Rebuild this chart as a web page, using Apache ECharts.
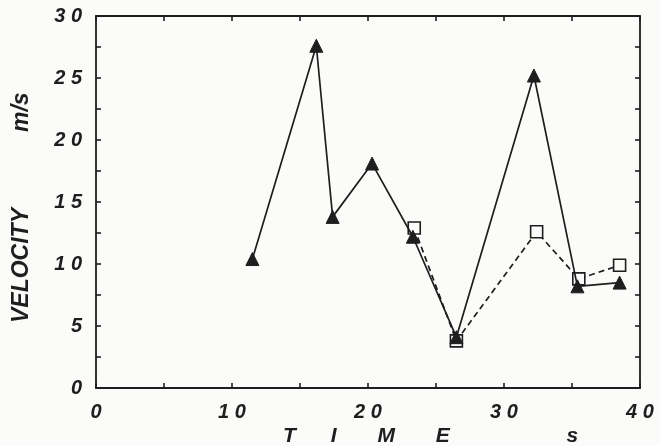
<!DOCTYPE html>
<html><head><meta charset="utf-8">
<script src="https://cdn.jsdelivr.net/npm/echarts@6/dist/echarts.min.js"></script>
<style>html,body{margin:0;padding:0;background:#fbfbf9;}#c{width:660px;height:446px;}</style>
</head><body><div id="c"></div>
<script>
const triTime = [11.5, 16.2, 17.4, 20.3, 23.3, 26.5, 32.2, 35.4, 38.5];
const triVel  = [10.4, 27.6, 13.8, 18.1, 12.2, 4.1, 25.2, 8.2, 8.5];
const sqTime  = [23.4, 26.5, 32.4, 35.5, 38.5];
const sqVel   = [12.9, 3.8, 12.6, 8.8, 9.9];
const xTicks = [0, 10, 20, 30, 40];
const yTicks = [0, 5, 10, 15, 20, 25, 30];

const ink = '#1e1e1e';
const bg = '#fbfbf9';
const font = {fontFamily: 'Liberation Sans, Arial, sans-serif', fontWeight: 'bold', fontStyle: 'italic'};
const spacedIf = list => v => list.indexOf(v) >= 0 ? String(v).split('').join(' ') : '';

const chart = echarts.init(document.getElementById('c'));
const axisCommon = () => ({
  axisLine: {show: true, onZero: false, lineStyle: {color: ink, width: 1.8}},
  axisTick: {show: true, inside: true, length: 5, lineStyle: {color: ink, width: 1.6}},
  minorTick: {show: false},
  splitLine: {show: false}
});
chart.setOption({
  backgroundColor: bg,
  animation: false,
  grid: {left: 96, right: 20, top: 16, bottom: 58},
  xAxis: [
    Object.assign(axisCommon(), {type: 'value', position: 'bottom', min: xTicks[0], max: xTicks[xTicks.length-1], interval: 5,
      axisLabel: Object.assign({fontSize: 20, margin: 14, color: ink, formatter: spacedIf(xTicks), showMinLabel: true, showMaxLabel: true}, font)}),
    Object.assign(axisCommon(), {type: 'value', position: 'top', min: xTicks[0], max: xTicks[xTicks.length-1], interval: 5,
      axisLabel: {show: false}})
  ],
  yAxis: [
    Object.assign(axisCommon(), {type: 'value', position: 'left', min: yTicks[0], max: yTicks[yTicks.length-1], interval: 2.5,
      axisLabel: Object.assign({fontSize: 20, margin: 14, color: ink, formatter: spacedIf(yTicks)}, font)}),
    Object.assign(axisCommon(), {type: 'value', position: 'right', min: yTicks[0], max: yTicks[yTicks.length-1], interval: 2.5,
      axisLabel: {show: false}})
  ],
  graphic: [
    {type: 'text', x: 283, y: 426, style: Object.assign({text: 'T      I       M       E                    s', fontSize: 21, fill: ink}, font)},
    {type: 'text', x: 10, y: 323, rotation: Math.PI/2, style: Object.assign({text: 'VELOCITY', fontSize: 23, fill: ink}, font)},
    {type: 'text', x: 10, y: 132, rotation: Math.PI/2, style: Object.assign({text: 'm/s', fontSize: 23, fill: ink}, font)}
  ],
  series: [
    {type: 'line', data: sqTime.map((t, i) => [t, sqVel[i]]), symbol: 'rect', symbolSize: 12,
     lineStyle: {color: ink, width: 1.7, type: [6, 4]},
     itemStyle: {color: bg, borderColor: ink, borderWidth: 1.6}, z: 2},
    {type: 'line', data: triTime.map((t, i) => [t, triVel[i]]), symbol: 'triangle', symbolSize: 13,
     lineStyle: {color: ink, width: 1.7},
     itemStyle: {color: ink, borderColor: ink}, z: 3}
  ]
});
</script></body></html>
